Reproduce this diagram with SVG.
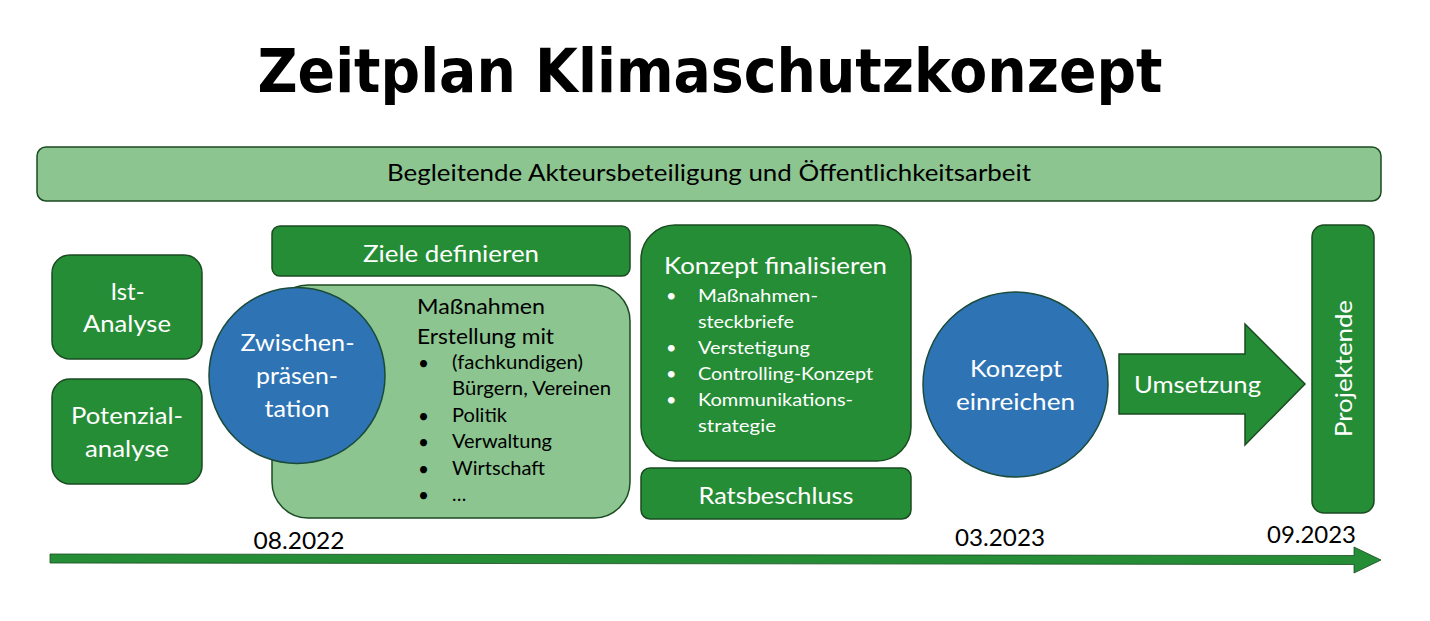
<svg xmlns="http://www.w3.org/2000/svg" width="1430" height="621" viewBox="0 0 1430 621">
<style>
.dk{fill:#258D35;stroke:#1B4B22;stroke-width:1.5}
.lt{fill:#8CC590;stroke:#1B4B22;stroke-width:1.5}
.bl{fill:#2E74B5;stroke:#1B4B3A;stroke-width:1.5}
text{font-family:Lato,"Open Sans","DejaVu Sans",sans-serif}
.w{fill:#FFFFFF}
.k{fill:#000000}
.t24{font-size:24px}
.t22{font-size:22px}
.t19{font-size:19px}
.mid{text-anchor:middle}
</style>
<rect width="1430" height="621" fill="#FFFFFF"/>
<g id="title">
<text x="710" y="92" class="k mid" style="font-family:'DejaVu Sans',sans-serif;font-weight:bold;font-size:60px" textLength="905" lengthAdjust="spacingAndGlyphs">Zeitplan Klimaschutzkonzept</text>
</g>
<g id="akteursbeteiligung">
<rect x="37" y="147" width="1344" height="54" rx="9" class="lt"/>
<text x="387" y="181" class="k t24" textLength="644" lengthAdjust="spacingAndGlyphs">Begleitende Akteursbeteiligung und Öffentlichkeitsarbeit</text>
</g>
<g id="ist-analyse">
<rect x="52" y="255" width="150" height="104" rx="18" class="dk"/>
<text x="127.5" y="300" class="w t24 mid" textLength="34" lengthAdjust="spacingAndGlyphs">Ist-</text>
<text x="127" y="332" class="w t24 mid" textLength="88" lengthAdjust="spacingAndGlyphs">Analyse</text>
</g>
<g id="potenzialanalyse">
<rect x="52" y="379" width="150" height="105" rx="18" class="dk"/>
<text x="127" y="424" class="w t24 mid" textLength="112" lengthAdjust="spacingAndGlyphs">Potenzial-</text>
<text x="127" y="457" class="w t24 mid" textLength="84" lengthAdjust="spacingAndGlyphs">analyse</text>
</g>
<g id="ziele">
<rect x="272" y="226" width="358" height="50" rx="8" class="dk"/>
<text x="451" y="262" class="w t24 mid" textLength="176" lengthAdjust="spacingAndGlyphs">Ziele definieren</text>
</g>
<g id="massnahmen">
<rect x="272" y="285" width="358" height="233" rx="36" class="lt"/>
<text x="417" y="314" class="k t22" textLength="128" lengthAdjust="spacingAndGlyphs">Maßnahmen</text>
<text x="417" y="344" class="k t22" textLength="137" lengthAdjust="spacingAndGlyphs">Erstellung mit</text>
<g class="k t19">
<text x="418" y="370">•</text>
<text x="452" y="369" textLength="131" lengthAdjust="spacingAndGlyphs">(fachkundigen)</text>
<text x="452" y="395" textLength="159" lengthAdjust="spacingAndGlyphs">Bürgern, Vereinen</text>
<text x="418" y="423">•</text>
<text x="452" y="422" textLength="55" lengthAdjust="spacingAndGlyphs">Politik</text>
<text x="418" y="449">•</text>
<text x="452" y="448" textLength="100" lengthAdjust="spacingAndGlyphs">Verwaltung</text>
<text x="418" y="476">•</text>
<text x="452" y="475" textLength="93" lengthAdjust="spacingAndGlyphs">Wirtschaft</text>
<text x="418" y="502">•</text>
<text x="452" y="501">…</text>
</g>
</g>
<g id="zwischenpraesentation">
<circle cx="297" cy="375.5" r="88" class="bl"/>
<text x="297.5" y="351" class="w t24 mid" textLength="114" lengthAdjust="spacingAndGlyphs">Zwischen-</text>
<text x="297" y="384" class="w t24 mid" textLength="82" lengthAdjust="spacingAndGlyphs">präsen-</text>
<text x="297" y="417" class="w t24 mid" textLength="65" lengthAdjust="spacingAndGlyphs">tation</text>
</g>
<g id="konzept-finalisieren">
<rect x="641" y="225" width="270" height="236" rx="34" class="dk"/>
<text x="664" y="274" class="w t24" textLength="223" lengthAdjust="spacingAndGlyphs">Konzept finalisieren</text>
<g class="w" style="font-size:18px">
<text x="666" y="302">•</text>
<text x="698" y="302" textLength="120" lengthAdjust="spacingAndGlyphs">Maßnahmen-</text>
<text x="698" y="328" textLength="96" lengthAdjust="spacingAndGlyphs">steckbriefe</text>
<text x="666" y="354">•</text>
<text x="698" y="354" textLength="112" lengthAdjust="spacingAndGlyphs">Verstetigung</text>
<text x="666" y="380">•</text>
<text x="698" y="380" textLength="175" lengthAdjust="spacingAndGlyphs">Controlling-Konzept</text>
<text x="666" y="406">•</text>
<text x="698" y="406" textLength="155" lengthAdjust="spacingAndGlyphs">Kommunikations-</text>
<text x="698" y="432" textLength="78" lengthAdjust="spacingAndGlyphs">strategie</text>
</g>
</g>
<g id="ratsbeschluss">
<rect x="641" y="468" width="270" height="51" rx="9" class="dk"/>
<text x="776" y="504" class="w mid" style="font-size:24px" textLength="155" lengthAdjust="spacingAndGlyphs">Ratsbeschluss</text>
</g>
<g id="konzept-einreichen">
<circle cx="1015.5" cy="384.5" r="92.5" class="bl"/>
<text x="1016" y="377" class="w t24 mid" textLength="92" lengthAdjust="spacingAndGlyphs">Konzept</text>
<text x="1015.5" y="410" class="w t24 mid" textLength="119" lengthAdjust="spacingAndGlyphs">einreichen</text>
</g>
<g id="umsetzung">
<polygon points="1119,354 1245,354 1245,324 1305,384 1245,445 1245,414 1119,414" class="dk"/>
<text x="1197.5" y="393" class="w t24 mid" textLength="127" lengthAdjust="spacingAndGlyphs">Umsetzung</text>
</g>
<g id="projektende">
<rect x="1312" y="225" width="62" height="288" rx="12" class="dk"/>
<text transform="translate(1352,368.5) rotate(-90)" class="w t24 mid" textLength="137" lengthAdjust="spacingAndGlyphs">Projektende</text>
</g>
<g id="connectors">
<polygon points="50,554 1354,555.5 1354,547 1381,560 1354,573 1354,564.5 50,563" fill="#258D35" stroke="#1B4B22" stroke-width="0.8"/>
</g>
<g id="dates" class="k t24">
<text x="299" y="549" class="mid" textLength="91" lengthAdjust="spacingAndGlyphs">08.2022</text>
<text x="1000" y="546" class="mid" textLength="90" lengthAdjust="spacingAndGlyphs">03.2023</text>
<text x="1311.5" y="543" class="mid" textLength="89" lengthAdjust="spacingAndGlyphs">09.2023</text>
</g>
</svg>
